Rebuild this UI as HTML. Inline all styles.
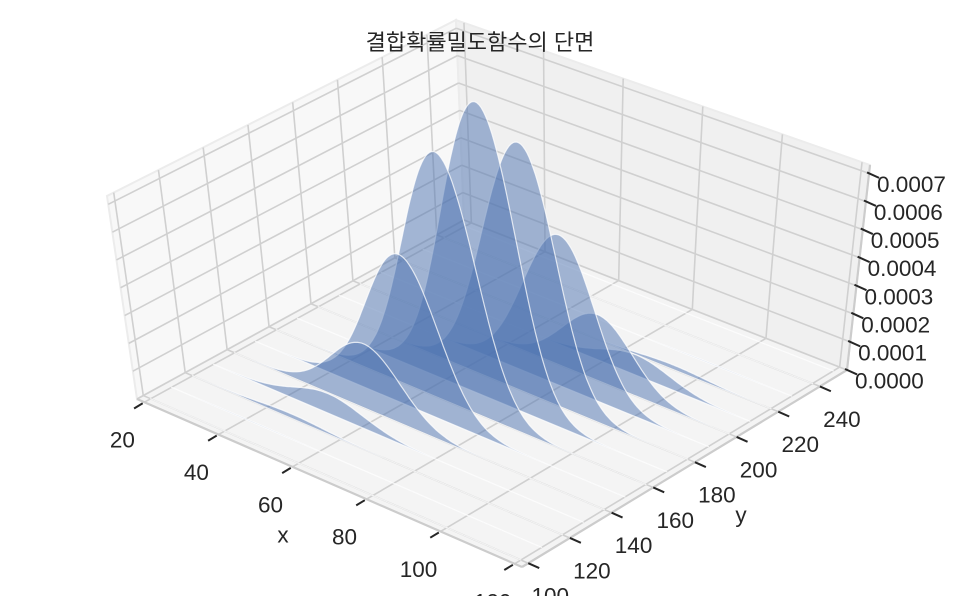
<!DOCTYPE html>
<html><head><meta charset="utf-8"><style>
html,body{margin:0;padding:0;background:#fff;}
svg{display:block;font-family:"Liberation Sans","Noto Sans CJK KR",sans-serif;}
</style></head><body>
<svg id="chart" width="959" height="596" viewBox="0 0 959 596" xmlns="http://www.w3.org/2000/svg">
<g id="panes"></g>
<g id="grid"></g>
<g id="slices"></g>
<g id="axes"></g>
<text x="480" y="50" text-anchor="middle" font-size="22" fill="#262626">결합확률밀도함수의 단면</text>
</svg>
<script>
// data
const sliceY = [100,110,120,130,140,150,160,170,180,190,200,210,220,230,240,250];
const slicePeak = [2.9e-7,2.6e-6,1.6e-5,7.1e-5,2.3e-4,5.28e-4,8.71e-4,1.03e-3,8.71e-4,5.28e-4,2.3e-4,7.1e-5,1.6e-5,2.6e-6,2.9e-7,0];
const sliceMeanX = [37.3,42,46.7,51.3,56,60.7,65.3,70,74.7,79.3,84,88.7,93.3,98,102.7,107.3];
const sliceSdX = [9.2,9.2,9.2,9.2,9.2,9.2,9.2,9.2,9.2,9.2,9.2,9.2,9.2,9.2,9.2,9.2];
const xTicks = [20,40,60,80,100,120];
const yTicks = [100,120,140,160,180,200,220,240];
const zTicks = [0,0.0001,0.0002,0.0003,0.0004,0.0005,0.0006,0.0007];
const zTickLabels = ["0.0000","0.0001","0.0002","0.0003","0.0004","0.0005","0.0006","0.0007"];

const NS = "http://www.w3.org/2000/svg";
const X0=18,X1=122,Y0=97,Y1=253,ZT=0.00073;
const F={A:[137,399],B:[522,567],C:[847,370],D:[464,220]};
const T={A:[107,196],B:[520,345],C:[870,165],D:[456,20]};
function bil(Q,u,v){
  const a=(1-u)*(1-v),b=u*(1-v),c=u*v,d=(1-u)*v;
  return [Q.A[0]*a+Q.B[0]*b+Q.C[0]*c+Q.D[0]*d, Q.A[1]*a+Q.B[1]*b+Q.C[1]*c+Q.D[1]*d];
}
function P(x,y,z){
  const u=(x-X0)/(X1-X0),v=(y-Y0)/(Y1-Y0),w=z/ZT;
  const f=bil(F,u,v),t=bil(T,u,v);
  return [f[0]+w*(t[0]-f[0]), f[1]+w*(t[1]-f[1])];
}
function pts(arr){return arr.map(p=>p[0].toFixed(1)+","+p[1].toFixed(1)).join(" ");}
function mk(tag,attrs,parent){const e=document.createElementNS(NS,tag);for(const k in attrs)e.setAttribute(k,attrs[k]);parent.appendChild(e);return e;}

const panes=document.getElementById('panes');
let e;
e=mk('polygon',{points:pts([P(X0,Y0,0),P(X1,Y0,0),P(X1,Y1,0),P(X0,Y1,0)]),fill:'#f4f4f4'},panes);


e=mk('polygon',{points:pts([P(X0,Y0,0),P(X0,Y1,0),P(X0,Y1,ZT),P(X0,Y0,ZT)]),fill:'#f8f8f8',stroke:'#ececec','stroke-width':2},panes);


e=mk('polygon',{points:pts([P(X0,Y1,0),P(X1,Y1,0),P(X1,Y1,ZT),P(X0,Y1,ZT)]),fill:'#f0f0f0',stroke:'#ececec','stroke-width':2},panes);



const grid=document.getElementById('grid');
const gs={stroke:'#d0d0d0','stroke-width':1.6,fill:'none'};
function gl(a,b,name){const l=mk('line',Object.assign({x1:a[0],y1:a[1],x2:b[0],y2:b[1]},gs),grid);}
xTicks.forEach(x=>{gl(P(x,Y0,0),P(x,Y1,0),'floor-grid-x');gl(P(x,Y1,0),P(x,Y1,ZT),'wall-grid-x');});
yTicks.forEach(y=>{gl(P(X0,y,0),P(X1,y,0),'floor-grid-y');gl(P(X0,y,0),P(X0,y,ZT),'wall-grid-y');});
zTicks.forEach(z=>{gl(P(X0,Y0,z),P(X0,Y1,z),'wall-grid-z');gl(P(X0,Y1,z),P(X1,Y1,z),'wall-grid-z');});

const sl=document.getElementById('slices');
for(let i=sliceY.length-1;i>=0;i--){
  const y=sliceY[i],pk=slicePeak[i],m=sliceMeanX[i],s=sliceSdX[i];
  const arr=[];
  for(let x=20;x<=120;x+=0.5){arr.push(P(x,y,pk*Math.exp(-0.5*((x-m)/s)**2)));}
  arr.push(P(120,y,0));arr.push(P(20,y,0));
  const pg=mk('polygon',{points:pts(arr),fill:'#4c72b0','fill-opacity':0.5,stroke:'#ffffff','stroke-opacity':0.75,'stroke-width':1.2,'stroke-linejoin':'round'},sl);
  
  
}

const ax=document.getElementById('axes');
function line(a,b,st,w,name){const l=mk('line',{x1:a[0],y1:a[1],x2:b[0],y2:b[1],stroke:st,'stroke-width':w},ax);}
line(P(X0,Y0,0),P(X1,Y0,0),'#cccccc',2.2,'x-axis-line');
line(P(X1,Y0,0),P(X1,Y1,0),'#cccccc',2.2,'y-axis-line');
line(P(X1,Y1,0),P(X1,Y1,ZT),'#cccccc',2.2,'z-axis-line');
function txt(x,y,s,anchor,name){const t=mk('text',{x:x,y:y,'font-size':22.5,fill:'#262626','text-anchor':anchor,'dominant-baseline':'central'},ax);t.textContent=s;}
xTicks.forEach(x=>{
  const p=P(x,Y0,0),dx=-0.86,dy=0.52;
  line([p[0]+dx*2,p[1]+dy*2],[p[0]+dx*12,p[1]+dy*12],'#262626',2,'x-tick');
  txt(p[0]-22,p[1]+38,String(x),'middle','x-tick-label');
});
yTicks.forEach(y=>{
  const p=P(X1,y,0),dx=0.914,dy=0.404;
  line([p[0],p[1]],[p[0]+dx*12,p[1]+dy*12],'#262626',2,'y-tick');
  txt(p[0]+22,p[1]+33,String(y),'middle','y-tick-label');
});
zTicks.forEach((z,i)=>{
  const p=P(X1,Y1,z),dx=0.914,dy=0.404;
  line([p[0]-2,p[1]-1],[p[0]+dx*11,p[1]+dy*11],'#262626',2,'z-tick');
  txt(p[0]+8,p[1]+11,zTickLabels[i],'start','z-tick-label');
});
txt(283,535,'x','middle','x-axis-title');
txt(741,515,'y','middle','y-axis-title');
</script>
</body></html>
